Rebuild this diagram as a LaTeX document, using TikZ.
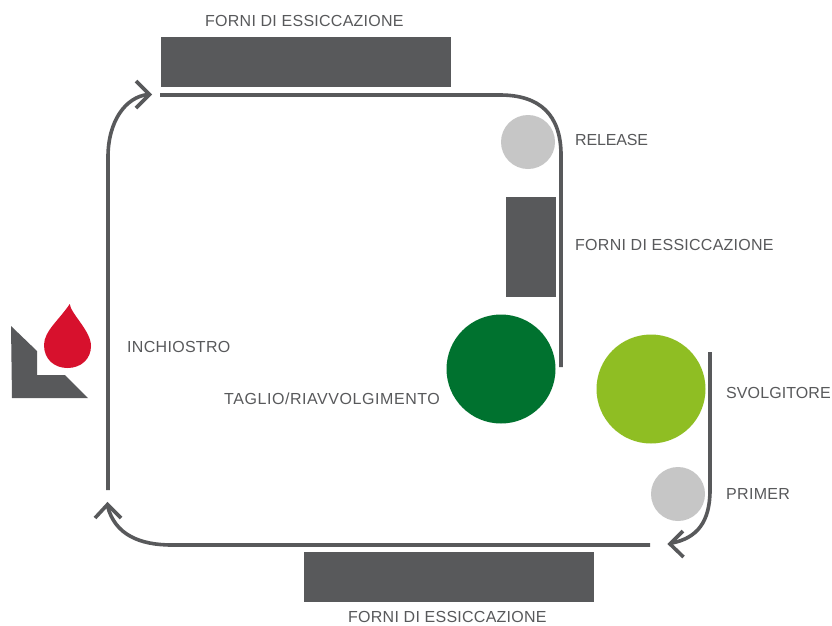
\documentclass[tikz,border=0pt]{standalone}
\usepackage{fontspec}
\setmainfont{Liberation Sans}
\definecolor{slate}{HTML}{58595B}
\definecolor{pale}{HTML}{C6C6C6}
\definecolor{dgreen}{HTML}{00722F}
\definecolor{lgreen}{HTML}{8FBE23}
\definecolor{inkred}{HTML}{D7112D}
\begin{document}
\begin{tikzpicture}[x=1pt,y=-1pt,
  lab/.style={inner sep=0pt,anchor=west,text=slate,font=\fontsize{16}{18}\selectfont\addfontfeature{LetterSpace=#1}},
  oven/.style={fill=slate,draw=none,inner sep=0pt,minimum width=#1},
  disc/.style={circle,fill=#1,draw=none,inner sep=0pt},
  belt/.style={draw=slate,line width=3.6pt},
  chev/.style={draw=slate,line width=3.6pt,line cap=butt,miter limit=10}]
\useasboundingbox (0,0) rectangle (832,625);
\fill[white] (0,0) rectangle (832,625);
% ovens
\node[oven=290pt,minimum height=50pt] (ovenT) at (306,62) {};
\node[oven=50pt,minimum height=100pt] (ovenR) at (531,247) {};
\node[oven=290pt,minimum height=50pt] (ovenB) at (449,577) {};
% rollers
\node[disc=pale,minimum size=54pt] (release) at (528,142) {};
\node[disc=dgreen,minimum size=109pt] (cut) at (501,369) {};
\node[disc=lgreen,minimum size=109pt] (unwind) at (651,389) {};
\node[disc=pale,minimum size=54pt] (primer) at (678,494) {};
% ink mark
\fill[slate] (11,326) -- (37,351) -- (37,375) -- (65,375) -- (88,398) -- (12,398) -- cycle;
\fill[inkred] (69.7,304) .. controls (71,314) and (91,331) .. (91,346)
  .. controls (91,359) and (81,368) .. (67.5,368)
  .. controls (54,368) and (44,359) .. (44,345)
  .. controls (44,331) and (60,319) .. (69.7,304) -- cycle;
% belt anchors
\coordinate (a1) at (108,490);
\coordinate (a2) at (108,157);
\coordinate (a3) at (148,94.5);
\coordinate (t1) at (160,95);
\coordinate (t2) at (500,95);
\coordinate (t3) at (561,155);
\coordinate (t4) at (561,367);
\coordinate (r1) at (710,352);
\coordinate (r2) at (710,490);
\coordinate (r3) at (672,543);
\coordinate (b1) at (650,545);
\coordinate (b2) at (172,545);
\coordinate (b3) at (107.5,506);
% belts
\draw[belt] (a1) -- (a2) .. controls (108,122) and (125,97) .. (a3);
\draw[belt] (t1) -- (t2) .. controls (540,95) and (561,115) .. (t3) -- (t4);
\draw[belt] (r1) -- (r2) .. controls (710,522) and (697,538) .. (r3);
\draw[belt] (b1) -- (b2) .. controls (140,545) and (115,535) .. (b3);
% arrowheads
\draw[chev] (136,81) -- (149.5,94.5) -- (136,108);
\draw[chev] (683,531) -- (670,544) -- (683.5,557);
\draw[chev] (95,518) -- (107.5,504.5) -- (121,518);
% labels
\node[lab=1.6] (l1) at (205,21) {FORNI DI ESSICCAZIONE};
\node[lab=-0.9] (l2) at (575,140) {RELEASE};
\node[lab=1.6] (l3) at (575,245) {FORNI DI ESSICCAZIONE};
\node[lab=1.9] (l4) at (127,347) {INCHIOSTRO};
\node[lab=3.5] (l5) at (224,399) {TAGLIO/RIAVVOLGIMENTO};
\node[lab=0.6] (l6) at (726,393) {SVOLGITORE};
\node[lab=2] (l7) at (726,494) {PRIMER};
\node[lab=1.6] (l8) at (348,617) {FORNI DI ESSICCAZIONE};
\end{tikzpicture}
\end{document}
